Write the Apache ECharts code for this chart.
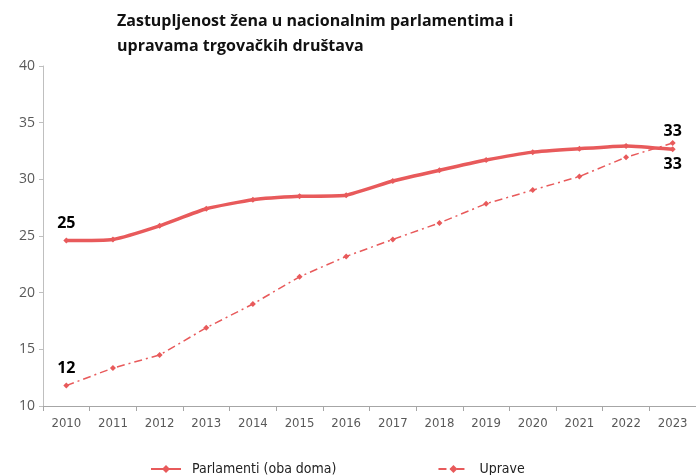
<!DOCTYPE html>
<html><head><meta charset="utf-8">
<script src="https://cdn.jsdelivr.net/npm/echarts@6/dist/echarts.min.js"></script>
<style>html,body{margin:0;padding:0;background:#fff}#c{width:696px;height:475px}</style>
</head><body><div id="c"></div>
<script>
const categories = ['2010','2011','2012','2013','2014','2015','2016','2017','2018','2019','2020','2021','2022','2023'];
const parlamenti = [24.6,24.7,25.9,27.4,28.2,28.5,28.6,29.85,30.8,31.7,32.4,32.7,32.95,32.65];
const uprave = [11.8,13.35,14.5,16.9,19.0,21.4,23.2,24.7,26.15,27.85,29.05,30.25,31.95,33.2];
const yTicks = [10,15,20,25,30,35,40];
const titleText = 'Zastupljenost žena u nacionalnim parlamentima i\nupravama trgovačkih društava';
const seriesNames = ['Parlamenti (oba doma)','Uprave'];

const RED = '#E85A5B';
const labelStyle = {fontFamily:'Open Sans', fontWeight:'bold', fontSize:16, color:'#000'};
const last = categories.length-1;
const chart = echarts.init(document.getElementById('c'), null, {renderer:'canvas'});
chart.setOption({
  animation:false,
  title:{text:titleText,left:112,top:4,textStyle:{fontFamily:'Open Sans',fontWeight:'bold',fontSize:16,color:'#111',lineHeight:25}},
  legend:{top:457,left:145,itemGap:101,itemWidth:30,itemHeight:10,
    textStyle:{fontFamily:'Liberation Sans Narrow, DejaVu Sans Condensed, sans-serif',fontSize:14,color:'#222',padding:[0,0,0,6]},
    data:seriesNames},
  grid:{left:43,right:-5,top:66,bottom:69,containLabel:false},
  xAxis:{type:'category',data:categories,boundaryGap:true,
    axisLine:{lineStyle:{color:'#a6a6a6'}},
    axisTick:{show:true,alignWithLabel:false,length:5,lineStyle:{color:'#a6a6a6'}},
    axisLabel:{margin:11,fontFamily:'Liberation Sans Narrow, DejaVu Sans Condensed, sans-serif',fontSize:13,color:'#595959'}},
  yAxis:{type:'value',min:yTicks[0],max:yTicks[yTicks.length-1],interval:5,
    splitLine:{show:false},
    axisLine:{show:true,lineStyle:{color:'#bfbfbf'}},
    axisTick:{show:true,length:4,lineStyle:{color:'#bfbfbf'}},
    axisLabel:{margin:8,fontFamily:'Open Sans',fontSize:14,color:'#595959'}},
  series:[
    {name:seriesNames[0],type:'line',
     data:parlamenti.map((v,i)=> i===last ? {value:v,label:{position:'bottom',distance:4}} : v),
     smooth:0.15,
     symbol:'diamond',symbolSize:6,showAllSymbol:true,
     itemStyle:{color:RED},lineStyle:{color:RED,width:3.5},
     label:{show:true,...labelStyle,formatter:p=>{
        if(p.dataIndex===0) return '25';
        if(p.dataIndex===last) return '33';
        return '';},
        position:'top',distance:6},
     emphasis:{disabled:true}
    },
    {name:seriesNames[1],type:'line',
     data:uprave.map((v,i)=> i===last ? {value:v,label:{distance:1}} : v),
     smooth:false,
     symbol:'diamond',symbolSize:6,
     itemStyle:{color:RED},lineStyle:{color:RED,width:1.5,type:[8,4,2,4]},
     label:{show:true,...labelStyle,formatter:p=>{
        if(p.dataIndex===0) return '12';
        if(p.dataIndex===last) return '33';
        return '';},
        position:'top',distance:6},
     emphasis:{disabled:true}
    }
  ]
});
</script></body></html>
